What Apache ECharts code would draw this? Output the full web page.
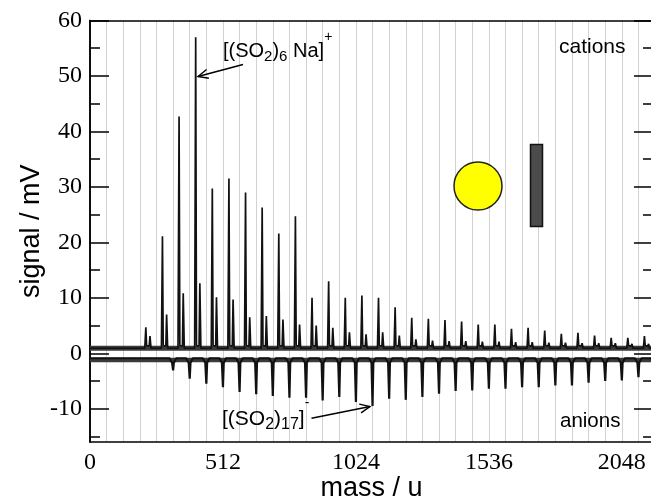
<!DOCTYPE html>
<html><head><meta charset="utf-8">
<script src="https://cdn.jsdelivr.net/npm/echarts@6/dist/echarts.min.js"></script>
<style>html,body{margin:0;padding:0;background:#fff}#c{width:651px;height:498px}</style>
</head><body><div id="c"></div>
<script>
// ---- data ----
const xTickLabels = [0, 512, 1024, 1536, 2048];
const yMajorTicks = [-10, 0, 10, 20, 30, 40, 50, 60];
const yMinorTicks = [-15, -5, 5, 15, 25, 35, 45, 55];
const SO2 = 64, NA = 23, K = 39;

// cations: [(SO2)n Na]+ main peaks and [(SO2)n K]+ side peaks (mV)
const cationN = [3,4,5,6,7,8,9,10,11,12,13,14,15,16,17,18,19,20,21,22,23,24,25,26,27,28,29,30,31,32,33];
const cationMain = [4.7,21.1,42.7,57.0,29.7,31.5,29.0,26.3,21.6,24.7,10.0,13.0,10.0,10.4,10.0,8.3,6.4,6.2,6.0,5.7,5.2,5.2,4.4,4.6,4.1,3.5,3.7,3.2,2.8,2.8,3.1];
const cationSide = [3.1,7.0,10.8,12.6,10.1,9.7,6.5,6.7,6.1,5.2,5.0,4.6,3.8,3.4,3.8,3.2,2.5,2.3,2.2,2.2,2.1,2.1,2.0,2.0,1.9,1.9,1.8,1.8,1.8,1.7,1.7];
const cationBase = 0.9;

// anions: [(SO2)n]- dips (mV)
const anionN = [5,6,7,8,9,10,11,12,13,14,15,16,17,18,19,20,21,22,23,24,25,26,27,28,29,30,31,32,33];
const anionMin = [-3.1,-4.6,-5.5,-6.1,-7.0,-7.4,-7.7,-8.0,-8.0,-8.5,-7.9,-8.8,-9.5,-8.2,-8.4,-7.9,-7.3,-6.8,-6.7,-6.4,-6.4,-6.1,-6.1,-5.8,-5.8,-5.3,-5.0,-4.9,-4.3];
const anionPlateau = -0.9;
const anionShoulder = -1.7;
const anionBand = -1.2;

const X_MAX = 2168, Y_MIN = -16, Y_MAX = 60;

// ---- build traces ----
const cationTrace = [[0, cationBase]];
cationN.forEach((n, i) => {
  const m = n * SO2 + NA, k = n * SO2 + K;
  cationTrace.push([m - 4, cationBase], [m, cationMain[i]], [m + 3, cationBase + 0.5],
                   [k - 3, cationBase + 0.4], [k, cationSide[i]], [k + 4, cationBase]);
});
cationTrace.push([X_MAX, cationBase]);

const anionTrace = [[0, anionPlateau]];
anionN.forEach((n, i) => {
  const m = n * SO2;
  anionTrace.push([m - 14, anionPlateau], [m - 4, anionShoulder], [m, anionMin[i]],
                  [m + 3, anionShoulder], [m + 12, anionPlateau]);
});
anionTrace.push([X_MAX, anionPlateau]);

const SANS = '"Liberation Sans", Arial, sans-serif';
const SERIF = '"Liberation Serif", "Times New Roman", serif';

// ---- annotation helpers (pixel layout) ----
const mctx = document.createElement('canvas').getContext('2d');
function measure(t, fs) { mctx.font = fs + 'px ' + SANS; return mctx.measureText(t).width; }
function formula(x0, pieces) {
  const els = []; let x = x0;
  pieces.forEach(([t, fs, base]) => {
    els.push({ type: 'text', x: x, y: base - 0.32 * fs, z: 100,
      style: { text: t, fontSize: fs, fontFamily: SANS, fill: '#000', align: 'left', verticalAlign: 'middle' } });
    x += measure(t, fs);
  });
  return els;
}
function arrow(x1, y1, x2, y2) {
  const a = Math.atan2(y1 - y2, x1 - x2), L = 11, h = 0.42;
  const st = { stroke: '#000', lineWidth: 1.4, fill: null };
  return [
    { type: 'line', z: 100, shape: { x1, y1, x2, y2 }, style: st },
    { type: 'polyline', z: 100, shape: { points: [[x2 + L * Math.cos(a + h), y2 + L * Math.sin(a + h)], [x2, y2], [x2 + L * Math.cos(a - h), y2 + L * Math.sin(a - h)]] }, style: st }
  ];
}

const graphics = [].concat(
  formula(223, [['[(SO', 20, 58.3], ['2', 15, 61.5], [')', 20, 58.3], ['6', 15, 61.5], [' Na]', 20, 58.3], ['+', 14, 42]]),
  arrow(243, 64.5, 198, 76.5),
  formula(222, [['[(SO', 21, 425.5], ['2', 16, 429.5], [')', 21, 425.5], ['17', 16, 429.5], [']', 21, 425.5], ['-', 14, 408]]),
  arrow(311.5, 418.3, 370, 406.5),
  [
    { type: 'text', x: 559, y: 47, z: 100, style: { text: 'cations', fontSize: 21, fontFamily: SANS, fill: '#000', align: 'left', verticalAlign: 'middle' } },
    { type: 'text', x: 560, y: 421, z: 100, style: { text: 'anions', fontSize: 20.5, fontFamily: SANS, fill: '#000', align: 'left', verticalAlign: 'middle' } },
    { type: 'circle', z: 100, shape: { cx: 478, cy: 186, r: 24 }, style: { fill: '#ffff00', stroke: '#222', lineWidth: 1.5 } },
    { type: 'rect', z: 100, shape: { x: 530.5, y: 144.5, width: 12, height: 82 }, style: { fill: '#4b4b4b', stroke: '#111', lineWidth: 1.5 } }
  ]
);

const axisLineStyle = { color: '#000', width: 1.5 };
function yAx(pos, ticks, len, labels, extra) {
  return Object.assign({
    type: 'value', min: Y_MIN, max: Y_MAX, position: pos,
    axisLine: { show: true, onZero: false, lineStyle: axisLineStyle },
    axisTick: { show: true, inside: true, length: len, customValues: ticks, lineStyle: { color: '#000', width: 1.5 } },
    axisLabel: labels ? { show: true, customValues: yMajorTicks, fontFamily: SERIF, fontSize: 24, color: '#000', margin: 8 } : { show: false },
    splitLine: { show: false }
  }, extra || {});
}

const option = {
  animation: false,
  backgroundColor: '#fff',
  grid: { left: 90, top: 20.5, width: 563, height: 421.5, containLabel: false, outerBoundsMode: 'none' },
  xAxis: [
    { type: 'value', min: 0, max: X_MAX, interval: SO2, position: 'bottom',
      axisLine: { show: true, onZero: false, lineStyle: axisLineStyle },
      axisTick: { show: false },
      axisLabel: { show: true, formatter: v => xTickLabels.includes(v) ? String(v) : '', fontFamily: SERIF, fontSize: 24, color: '#000', margin: 9 },
      splitLine: { show: true, lineStyle: { color: '#d2d2d2', width: 1 } },
      name: 'mass / u', nameLocation: 'middle', nameGap: 33, nameMoveOverlap: false,
      nameTextStyle: { fontFamily: SANS, fontSize: 27, color: '#000' } },
    { type: 'value', min: 0, max: X_MAX, position: 'top',
      axisLine: { show: true, onZero: false, lineStyle: axisLineStyle },
      axisTick: { show: false }, axisLabel: { show: false }, splitLine: { show: false } }
  ],
  yAxis: [
    yAx('left', yMajorTicks, 19, true, { name: 'signal / mV', nameLocation: 'middle', nameGap: 45, nameMoveOverlap: false,
      nameTextStyle: { fontFamily: SANS, fontSize: 27, color: '#000' } }),
    yAx('left', yMinorTicks, 10, false),
    yAx('right', yMajorTicks, 19, false),
    yAx('right', yMinorTicks, 10, false)
  ],
  series: [
    { name: 'cation band', type: 'line', data: [[0, cationBase], [X_MAX, cationBase]], showSymbol: false, symbol: 'none',
      lineStyle: { color: '#3a3a3a', width: 5 }, silent: true, z: 3 },
    { name: 'anion band', type: 'line', data: [[0, anionBand], [X_MAX, anionBand]], showSymbol: false, symbol: 'none',
      lineStyle: { color: '#3a3a3a', width: 4.5 }, silent: true, z: 3 },
    { name: 'cations', type: 'line', data: cationTrace, showSymbol: false, symbol: 'none',
      lineStyle: { color: '#111', width: 1.7 }, z: 4 },
    { name: 'anions', type: 'line', data: anionTrace, showSymbol: false, symbol: 'none',
      lineStyle: { color: '#111', width: 2.2 }, z: 4 }
  ],
  graphic: graphics
};

const chart = echarts.init(document.getElementById('c'));
chart.setOption(option);
</script></body></html>
